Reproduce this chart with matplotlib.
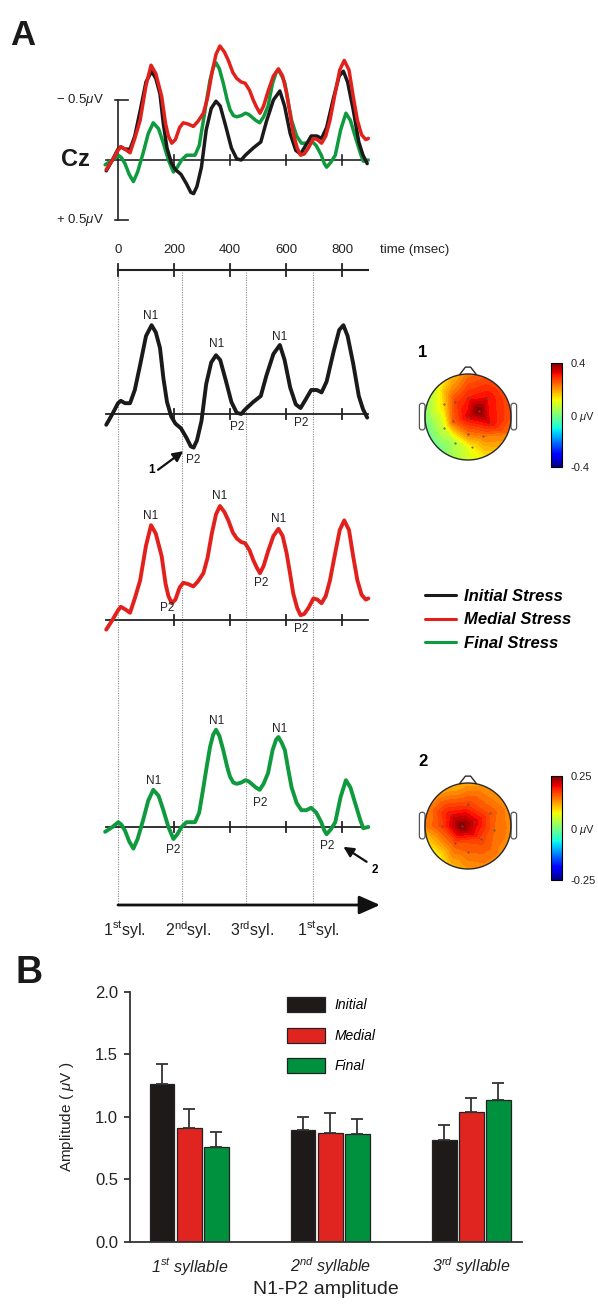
import numpy as np
import matplotlib
matplotlib.use('Agg')
import matplotlib.pyplot as plt
from matplotlib.patches import Circle, Polygon, FancyBboxPatch
import matplotlib.tri as mtri
from matplotlib.colors import Normalize
from matplotlib.cm import ScalarMappable

plt.rcParams['font.family'] = ['Liberation Sans', 'DejaVu Sans']
plt.rcParams['mathtext.fontset'] = 'custom'
plt.rcParams['mathtext.rm'] = 'Liberation Sans'
plt.rcParams['mathtext.it'] = 'Liberation Sans:italic'
plt.rcParams['mathtext.bf'] = 'Liberation Sans:bold'

# ---------------- data: ERP waveforms at Cz (ms, microvolt; negative plotted up) -------------
t_initial = [-42, -20, 0, 10, 25, 43, 60, 80, 100, 120, 135, 150, 162, 175, 190, 205, 225, 245,
             260, 270, 282, 298, 315, 333, 350, 365, 385, 405, 424, 440, 455, 483, 510, 530,
             555, 578, 595, 615, 635, 652, 670, 690, 710, 727, 745, 770, 790, 805, 820, 840,
             860, 875, 890]
v_initial = [0.09, 0.0, -0.09, -0.11, -0.09, -0.09, -0.2, -0.42, -0.65, -0.74, -0.68, -0.55,
             -0.3, -0.1, 0.02, 0.08, 0.12, 0.2, 0.27, 0.28, 0.22, 0.06, -0.25, -0.43, -0.49,
             -0.45, -0.28, -0.1, -0.01, 0.0, -0.04, -0.1, -0.15, -0.32, -0.5, -0.575, -0.45,
             -0.22, -0.08, -0.05, -0.12, -0.2, -0.2, -0.18, -0.27, -0.52, -0.7, -0.74, -0.65,
             -0.42, -0.15, -0.04, 0.03]

t_medial = [-42, -20, 0, 10, 25, 43, 60, 79, 100, 118, 135, 156, 170, 180, 192, 205, 220, 233,
            250, 269, 285, 305, 320, 335, 350, 364, 380, 394, 410, 424, 440, 454, 470, 483,
            495, 507, 520, 537, 555, 573, 588, 602, 615, 626, 640, 652, 665, 680, 698, 712,
            727, 742, 757, 775, 792, 808, 825, 840, 855, 870, 885, 894]
v_medial = [0.08, 0.0, -0.08, -0.11, -0.09, -0.06, -0.18, -0.33, -0.62, -0.79, -0.72, -0.53,
            -0.3, -0.2, -0.14, -0.17, -0.27, -0.31, -0.3, -0.28, -0.32, -0.39, -0.52, -0.72,
            -0.88, -0.95, -0.9, -0.83, -0.73, -0.68, -0.65, -0.64, -0.58, -0.5, -0.44, -0.39,
            -0.45, -0.58, -0.7, -0.76, -0.7, -0.56, -0.38, -0.22, -0.1, -0.04, -0.05, -0.1,
            -0.18, -0.17, -0.14, -0.2, -0.33, -0.55, -0.75, -0.83, -0.75, -0.53, -0.33, -0.21,
            -0.17, -0.18]

t_final = [-46, -20, 1, 12, 25, 40, 55, 70, 90, 108, 126, 145, 162, 180, 198, 212, 227, 245,
           260, 275, 290, 305, 318, 329, 340, 350, 362, 376, 390, 400, 412, 424, 440, 455,
           467, 477, 492, 506, 520, 536, 552, 565, 573, 585, 596, 608, 620, 638, 655, 672,
           690, 708, 726, 737, 745, 760, 776, 795, 814, 830, 852, 865, 876, 894]
v_final = [0.04, 0.0, -0.04, -0.02, 0.03, 0.12, 0.18, 0.1, -0.06, -0.22, -0.31, -0.26, -0.14,
           0.0, 0.1, 0.06, 0.0, -0.04, -0.04, -0.04, -0.12, -0.33, -0.52, -0.67, -0.77, -0.81,
           -0.76, -0.64, -0.5, -0.42, -0.37, -0.36, -0.37, -0.39, -0.38, -0.36, -0.33, -0.31,
           -0.36, -0.45, -0.64, -0.73, -0.75, -0.7, -0.64, -0.48, -0.33, -0.2, -0.14, -0.14,
           -0.16, -0.12, -0.04, 0.03, 0.06, 0.02, -0.04, -0.25, -0.39, -0.33, -0.16, -0.06,
           0.01, 0.0]

time_ticks = [0, 200, 400, 600, 800]
syllable_onsets = [0, 230, 457, 695]
syllable_labels = ['1$^{\\mathrm{st}}$syl.', '2$^{\\mathrm{nd}}$syl.', '3$^{\\mathrm{rd}}$syl.',
                   '1$^{\\mathrm{st}}$syl.']
cond_names = ['Initial Stress', 'Medial Stress', 'Final Stress']
wave_colors = ['#1a1a1a', '#e3211c', '#0f9a3e']

# peak labels (text, ms, microvolt)
peaks_initial = [('N1', 118, -0.82), ('N1', 352, -0.58), ('N1', 579, -0.64),
                 ('P2', 269, 0.38), ('P2', 424, 0.11), ('P2', 656, 0.075)]
peaks_medial = [('N1', 118, -0.87), ('N1', 362, -1.03), ('N1', 573, -0.84),
                ('P2', 174, -0.1), ('P2', 513, -0.31), ('P2', 656, 0.075)]
peaks_final = [('N1', 126, -0.38), ('N1', 352, -0.88), ('N1', 576, -0.82),
               ('P2', 198, 0.19), ('P2', 507, -0.2), ('P2', 747, 0.16)]

# topographic maps: electrode positions (unit head radius) and values (microvolt)
topo1_x = [0.25, 0.0, 0.0, 0.45, 0.5, -0.3, -0.35, 0.0, 0.35, -0.55, -0.55, -0.3, 0.1]
topo1_y = [0.15, 0.0, 0.45, 0.45, -0.15, 0.35, -0.1, -0.4, -0.45, 0.3, -0.25, -0.6, -0.7]
topo1_v = [0.40, 0.33, 0.30, 0.32, 0.32, 0.27, 0.24, 0.22, 0.22, 0.15, 0.08, 0.05, 0.12]
topo1_rim = [0.22, 0.25, 0.26, 0.26, 0.25, 0.22, 0.17, 0.12, 0.08, 0.03, -0.03, -0.04, -0.02,
             0.02, 0.08, 0.15]
topo2_x = [-0.15, 0.15, -0.4, 0.3, -0.3, 0.0, 0.5, 0.6, -0.6, 0.0]
topo2_y = [0.0, 0.1, 0.25, -0.3, -0.4, 0.5, 0.3, -0.1, 0.0, -0.6]
topo2_v = [0.25, 0.21, 0.2, 0.17, 0.16, 0.17, 0.16, 0.15, 0.17, 0.15]
topo2_rim = [0.11, 0.12, 0.12, 0.13, 0.13, 0.13, 0.13, 0.13, 0.12, 0.1, 0.06, 0.08, 0.13,
             0.13, 0.12, 0.1]
topo1_max = 0.4
topo2_max = 0.25

# bar chart: N1-P2 amplitude
categories = ['1$^{st}$ syllable', '2$^{nd}$ syllable', '3$^{rd}$ syllable']
bar_names = ['Initial', 'Medial', 'Final']
bar_initial = [1.26, 0.89, 0.81]
bar_medial = [0.91, 0.87, 1.04]
bar_final = [0.76, 0.86, 1.13]
err_initial = [0.16, 0.11, 0.12]
err_medial = [0.15, 0.16, 0.11]
err_final = [0.12, 0.12, 0.14]
bar_colors = ['#1e1a19', '#e02520', '#00913f']

# ---------------- layout helpers ----------------
W, H = 598, 1304
fig = plt.figure(figsize=(W / 100, H / 100), dpi=100)


def px_axes(x0, y0, x1, y1):
    return fig.add_axes([x0 / W, 1 - y1 / H, (x1 - x0) / W, (y1 - y0) / H])


T0 = 118.0
PX_MS = 0.28
PX_UV = 120.0
AX_X0, AX_X1 = 60, 400


def ms_lim():
    return ((AX_X0 - T0) / PX_MS, (AX_X1 - T0) / PX_MS)


def wave_axes(zero_px, top_px, bot_px):
    ax = px_axes(AX_X0, top_px, AX_X1, bot_px)
    ax.set_xlim(*ms_lim())
    ax.set_ylim((bot_px - zero_px) / PX_UV, (top_px - zero_px) / PX_UV)
    ax.axis('off')
    return ax


t_start = min(t_initial)
t_end = max(t_final)
tick_h = 5 / PX_UV

# background axes for the A panel frame (x in ms, y in pixels)
bg = px_axes(AX_X0, 230, AX_X1, 960)
bg.set_xlim(*ms_lim())
bg.set_ylim(960, 230)
bg.axis('off')
for s in syllable_onsets:
    bg.plot([s, s], [272, 905], color='#8a8a8a', lw=0.8, ls=(0, (1, 1.2)))
bg.plot([0, t_end], [270, 270], color='#222222', lw=1.5)
for tt in time_ticks:
    bg.plot([tt, tt], [264, 276], color='#222222', lw=1.3)
    bg.text(tt, 250, str(tt), ha='center', va='center', fontsize=9.5, color='#222222')
bg.text((380 - T0) / PX_MS, 250, 'time (msec)', ha='left', va='center', fontsize=9.5, color='#222222')
bg.annotate('', xy=((380 - T0) / PX_MS, 905), xytext=(0, 905),
            arrowprops=dict(arrowstyle='-|>,head_length=0.9,head_width=0.4', lw=2,
                            color='#111111', mutation_scale=14, shrinkA=0, shrinkB=0))
for s, lab in zip(syllable_onsets, syllable_labels):
    bg.text(s + 21, 930, lab, ha='center', va='center', fontsize=11.5, color='#222222')

# ---------------- top Cz overlay ----------------
ax0 = wave_axes(160, 30, 240)
ax0.plot([t_start, t_end], [0, 0], color='#222222', lw=1.2, zorder=1)
for tt in time_ticks[1:]:
    ax0.plot([tt, tt], [-tick_h, tick_h], color='#222222', lw=1.2, zorder=1)
ax0.plot([0, 0], [-0.5, 0.5], color='#222222', lw=1.2)
for yv in (-0.5, 0.5):
    ax0.plot([-11, 36], [yv, yv], color='#222222', lw=1.2)
ax0.text(-50, -0.5, '$-$ 0.5$\\mu$V', ha='right', va='center', fontsize=9.5, color='#222222')
ax0.text(-50, 0.5, '+ 0.5$\\mu$V', ha='right', va='center', fontsize=9.5, color='#222222')
ax0.text(-100, 0.0, 'Cz', ha='right', va='center', fontsize=17, weight='bold', color='#1a1a1a')
for t, v, c in zip([t_final, t_initial, t_medial], [v_final, v_initial, v_medial],
                   [wave_colors[2], wave_colors[0], wave_colors[1]]):
    ax0.plot(t, v, color=c, lw=2.5, solid_joinstyle='round', solid_capstyle='round')

# ---------------- individual panels ----------------
panel_specs = [(414, 290, 490, t_initial, v_initial, peaks_initial, wave_colors[0]),
               (620, 480, 660, t_medial, v_medial, peaks_medial, wave_colors[1]),
               (827, 690, 895, t_final, v_final, peaks_final, wave_colors[2])]
handles = []
for zero, top, bot, t, v, peaks, c in panel_specs:
    ax = wave_axes(zero, top, bot)
    ax.plot([t_start, t_end], [0, 0], color='#222222', lw=1.3, zorder=1)
    for tt in time_ticks[1:]:
        ax.plot([tt, tt], [-tick_h, tick_h], color='#222222', lw=1.3, zorder=1)
    ln, = ax.plot(t, v, color=c, lw=2.8, solid_joinstyle='round', solid_capstyle='round', zorder=3)
    handles.append(ln)
    for lab, tx, vy in peaks:
        ax.text(tx, vy, lab, ha='center', va='center', fontsize=8.5, color='#222222', zorder=4)
    if c == wave_colors[0]:
        ax.annotate('', xy=(233, 0.31), xytext=(143, 0.465),
                    arrowprops=dict(arrowstyle='-|>,head_length=0.6,head_width=0.3', lw=1.6,
                                    color='#111111', shrinkA=0, shrinkB=0))
        ax.text(120, 0.47, '1', ha='center', va='center', fontsize=8.5, weight='bold')
    if c == wave_colors[2]:
        ax.annotate('', xy=(805, 0.165), xytext=(888, 0.29),
                    arrowprops=dict(arrowstyle='-|>,head_length=0.6,head_width=0.3', lw=1.6,
                                    color='#111111', shrinkA=0, shrinkB=0))
        ax.text(918, 0.36, '2', ha='center', va='center', fontsize=8.5, weight='bold')

leg = fig.legend(handles, cond_names, loc='upper left',
                 bbox_to_anchor=(425 / W, 1 - 589 / H), frameon=False,
                 prop=dict(weight='bold', style='italic', size=12), handlelength=1.85,
                 handletextpad=0.5, labelspacing=0.5, borderpad=0, borderaxespad=0)
for lh in leg.legend_handles:
    lh.set_linewidth(2.2)


# ---------------- topographic maps ----------------
def topomap(cx, cy, xs, ys, vs, rim, vmax, num, cb_top, cb_bot):
    r = 43.0
    ax = px_axes(cx - 60, cy - 60, cx + 60, cy + 60)
    ax.set_xlim(-60 / r, 60 / r)
    ax.set_ylim(-60 / r, 60 / r)
    ax.axis('off')
    ang = np.linspace(np.pi / 2, np.pi / 2 - 2 * np.pi, 16, endpoint=False)
    ex = np.concatenate([xs, 1.06 * np.cos(ang)])
    ey = np.concatenate([ys, 1.06 * np.sin(ang)])
    ev = np.concatenate([vs, rim])
    tri = mtri.Triangulation(ex, ey)
    cs = ax.tricontourf(tri, ev, levels=np.linspace(-vmax, vmax, 41), cmap='jet',
                        vmin=-vmax, vmax=vmax, extend='both')
    cs.set_clip_path(Circle((0, 0), 1.0, transform=ax.transData))
    ax.scatter(xs, ys, s=0.25, color='#555555', zorder=3)
    ax.add_patch(Circle((0, 0), 1.0, fill=False, lw=1.0, ec='#2a2a2a', zorder=4))
    ax.add_patch(Polygon([(-0.2, 0.98), (-0.06, 1.16), (0.06, 1.16), (0.2, 0.98)], closed=False,
                         fill=False, lw=1.0, ec='#2a2a2a', zorder=4, joinstyle='round'))
    for sx in (-1, 1):
        x0 = 1.0 if sx > 0 else -1.13
        ax.add_patch(FancyBboxPatch((x0, -0.3), 0.13, 0.62,
                                    boxstyle='round,pad=0.0,rounding_size=0.06',
                                    fc='white', ec='#555555', lw=0.9, zorder=2))
    ax.text(-1.05, 1.5, num, ha='center', va='center', fontsize=12, weight='bold')
    cax = px_axes(551, cb_top, 562, cb_bot)
    sm = ScalarMappable(norm=Normalize(-vmax, vmax), cmap='jet')
    cb = fig.colorbar(sm, cax=cax)
    cb.set_ticks([-vmax, 0, vmax])
    cb.set_ticklabels(['-%g' % vmax, '0 $\\mu$V', '%g' % vmax])
    cax.tick_params(length=0, labelsize=8, pad=6, colors='#222222')
    cb.outline.set_linewidth(0.8)


topomap(468, 417, topo1_x, topo1_y, topo1_v, topo1_rim, topo1_max, '1', 363, 467)
topomap(468, 826, topo2_x, topo2_y, topo2_v, topo2_rim, topo2_max, '2', 776, 880)

# ---------------- panel letters ----------------
fig.text(10 / W, 1 - 45 / H, 'A', fontsize=25, weight='bold', va='baseline', ha='left', color='#1a1a1a')
fig.text(16 / W, 1 - 983 / H, 'B', fontsize=27, weight='bold', va='baseline', ha='left', color='#1a1a1a')

# ---------------- bar chart ----------------
axb = px_axes(130, 991.7, 522, 1241.7)
xg = np.arange(len(categories))
bw = 0.177
step = 0.193
for k, (vals, errs, col, name) in enumerate(zip([bar_initial, bar_medial, bar_final],
                                                [err_initial, err_medial, err_final],
                                                bar_colors, bar_names)):
    axb.bar(xg + (k - 1) * step, vals, width=bw, color=col, edgecolor='#222222', lw=0.9,
            yerr=[np.zeros(len(errs)), errs], capsize=4,
            error_kw=dict(elinewidth=1.3, capthick=1.3, ecolor='#333333'), label=name)
axb.set_xlim(-0.42, 2.36)
axb.set_ylim(0, 2.0)
axb.set_yticks([0, 0.5, 1.0, 1.5, 2.0])
axb.set_yticklabels(['0.0', '0.5', '1.0', '1.5', '2.0'])
axb.set_xticks(xg)
axb.set_xticklabels(categories, fontstyle='italic')
axb.tick_params(axis='x', length=0, pad=10, labelsize=11.5, colors='#222222')
axb.tick_params(axis='y', length=4.5, width=1.2, pad=4, labelsize=12, colors='#222222')
for sp in ('top', 'right'):
    axb.spines[sp].set_visible(False)
for sp in ('left', 'bottom'):
    axb.spines[sp].set_linewidth(1.3)
    axb.spines[sp].set_color('#333333')
axb.set_ylabel('Amplitude ( $\\mu$V )', fontsize=11, labelpad=14, color='#222222')
axb.set_xlabel('N1-P2 amplitude', fontsize=14, labelpad=3, color='#222222')
axb.legend(loc='upper left', bbox_to_anchor=((287 - 130) / 392, 1 - (997 - 991.7) / 250),
           frameon=False, prop=dict(style='italic', size=10), handlelength=2.7,
           handleheight=1.3, labelspacing=1.1, handletextpad=0.7, borderpad=0,
           borderaxespad=0)

fig.savefig('out.png', dpi=100)
